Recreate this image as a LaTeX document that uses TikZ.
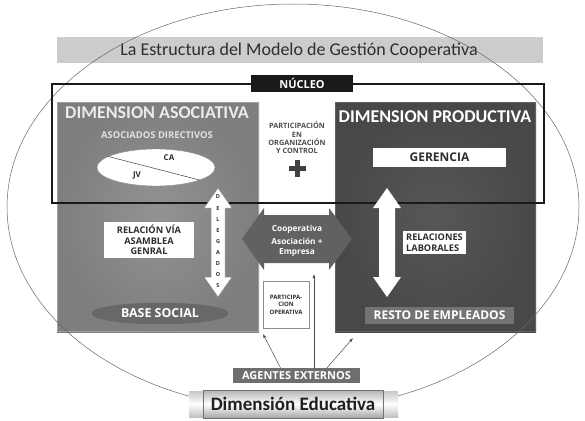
\documentclass[tikz,border=0pt]{standalone}
\usepackage{fontspec}
\setmainfont{Carlito}
\newfontfamily\capsfont{Open Sans}
\usetikzlibrary{positioning}
\usetikzlibrary{shapes.geometric}
\usetikzlibrary{arrows.meta}
\usepackage{xcolor}

\definecolor{asocLight}{HTML}{939393}
\definecolor{asocDark}{HTML}{7E7E7E}
\definecolor{prodLight}{HTML}{575757}
\definecolor{prodDark}{HTML}{484848}
\definecolor{midGray}{HTML}{686868}
\definecolor{textGray}{HTML}{2E2E2E}

\begin{document}
\begin{tikzpicture}[x=1pt, y=-1pt]

\useasboundingbox (0,0) rectangle (585,420);

\tikzset
  {
    whiteBox/.style=  {fill=white, inner sep=0pt, text=textGray, font=\capsfont\bfseries\fontsize{9.2}{10.5}\selectfont},
    whiteText/.style= {text=white, font=\capsfont\bfseries},
    grayBox/.style=   {fill=midGray, inner sep=0pt, text=white},
    thinArrow/.style= {black!70, line width=0.5pt, -{Latex[length=4pt,width=3pt]}}
  }

% title
\fill[gray!40] (57,37) rectangle (543,63);
\node[text=textGray, font=\fontsize{18}{20}\selectfont] (title) at (299,51)
{La Estructura del Modelo de Gestión Cooperativa};

% dimension boxes
\shade[inner color=asocLight, outer color=asocDark] (57,102) rectangle (259,332);
\draw[black!38, line width=1pt] (57.5,102.5) rectangle (258.5,331.5);
\shade[inner color=prodLight, outer color=prodDark] (335,102) rectangle (536,332);
\draw[black!62, line width=1pt] (335.5,102.5) rectangle (535.5,331.5);

% outer ellipse
\draw[black!60, line width=0.5pt] (293,207) ellipse [x radius=286pt, y radius=203pt];

% nucleo
\draw[black!90, line width=1.6pt] (52,84) rectangle (544,203);
\node[fill=black!90, text=white, inner sep=0pt, minimum width=102, minimum height=17,
      font=\capsfont\bfseries\fontsize{11}{12}\selectfont] (nucleo) at (302,83.5) {NÚCLEO};

% dimension asociativa
{
\node[text=black!8, font=\bfseries\fontsize{18}{20}\selectfont] (dimAsoc) at (157,113)
{DIMENSION ASOCIATIVA};
\node[text=black!12, font=\capsfont\bfseries\fontsize{9.4}{11}\selectfont] (asociados) at (157,135)
{ASOCIADOS DIRECTIVOS};

\node[ellipse, draw=black!45, fill=white, minimum width=118, minimum height=37] (juntas) at (156,167.5) {};
\draw[black!75, line width=0.5pt] (juntas.167)--(juntas.-16);
\node[text=textGray, font=\capsfont\bfseries\fontsize{8}{10}\selectfont] (ca) at (169,158) {CA};
\node[text=textGray, font=\capsfont\bfseries\fontsize{8}{10}\selectfont] (jv) at (137,175) {JV};

\node[whiteBox, minimum width=90, minimum height=36, align=center] (relacion) at (149,240)
{RELACIÓN VÍA\\ASAMBLEA\\GENRAL};

\node[ellipse, draw=black!60, fill=midGray, inner sep=0pt, minimum width=136, minimum height=21,
      whiteText, font=\capsfont\bfseries\fontsize{12.4}{13}\selectfont] (base) at (160,313.5) {BASE SOCIAL};
}

% delegados
{
\filldraw[fill=white, draw=black!45, line width=0.5pt]
  (218,188)--(232,208)--(225,208)--(225,277)--(232,277)--(218,297)
  --(204,277)--(211,277)--(211,208)--(204,208)--cycle;

\foreach \l [count=\i from 0] in {D,E,L,E,G,A,D,O,S}
\node[text=textGray, inner sep=0pt, font=\capsfont\bfseries\fontsize{5.5}{6}\selectfont] (del\i) at (218,197+11.1*\i) {\l};
}

% centre column
{
\node[text=black!70, align=center, font=\capsfont\bfseries\fontsize{7.3}{8.3}\selectfont] (participacion) at (297,138)
{PARTICIPACIÓN\\EN\\ORGANIZACIÓN\\Y CONTROL};
\fill[black!75] (288.5,165.5) rectangle (305.5,170.5);
\fill[black!75] (294.5,159.5) rectangle (299.5,176.5);

\fill[black!62] (242,239)--(264,208)--(264,215)--(329,215)--(329,208)--(352,239)
  --(329,270)--(329,263)--(264,263)--(264,270)--cycle;
\node[whiteText, align=center, font=\capsfont\bfseries\fontsize{8.3}{10}\selectfont] (coop) at (297,240.5)
{Cooperativa\\[3pt]Asociación +\\Empresa};

\node[draw=black!45, fill=white, inner sep=0pt, minimum width=46, minimum height=47, align=center,
      text=textGray, font=\capsfont\bfseries\fontsize{6}{7.5}\selectfont] (operativa) at (286,304.5)
{PARTICIPA-\\CION\\OPERATIVA};
}

% dimension productiva
{
\node[whiteText, font=\bfseries\fontsize{18}{20}\selectfont] (dimProd) at (435,117)
{DIMENSION PRODUCTIVA};
\node[whiteBox, minimum width=133, minimum height=19, font=\capsfont\bfseries\fontsize{12}{13}\selectfont] (gerencia) at (439.5,157.5)
{GERENCIA};

\fill[white] (387,188)--(401,208)--(395,208)--(395,277)--(401,277)--(387,297)
  --(373,277)--(379,277)--(379,208)--(373,208)--cycle;

\node[whiteBox, minimum width=63, minimum height=23, align=left] (laborales) at (434.5,242.5)
{RELACIONES\\LABORALES};

\node[grayBox, fill=black!55, minimum width=149, minimum height=17, font=\capsfont\bfseries\fontsize{12}{13}\selectfont] (resto) at (439.5,315.5)
{RESTO DE EMPLEADOS};
}

% agentes externos
\node[grayBox, fill=black!57, minimum width=127, minimum height=15, font=\capsfont\bfseries\fontsize{11}{12}\selectfont] (agentes) at (296.5,375.5)
{AGENTES EXTERNOS};

\coordinate (aimLeft) at (263,334);
\coordinate (aimUp) at (314,274);
\coordinate (aimRight) at (353,338);

\draw[thinArrow] ([xshift=-16pt]agentes.north)--(aimLeft);
\draw[thinArrow] ([xshift=17.5pt]agentes.north)--(aimUp);
\draw[thinArrow] ([xshift=30.5pt]agentes.north)--(aimRight);

% dimension educativa
\shade[top color=black!22, bottom color=black!25, middle color=white] (189,391) rectangle (398,417);
\node[draw=black!55, top color=black!30, bottom color=black!35, middle color=white, inner sep=0pt,
      minimum width=180, minimum height=28, text=black!88,
      font=\bfseries\fontsize{19}{21}\selectfont] (educativa) at (293,404)
{Dimensión Educativa};

\end{tikzpicture}
\end{document}
